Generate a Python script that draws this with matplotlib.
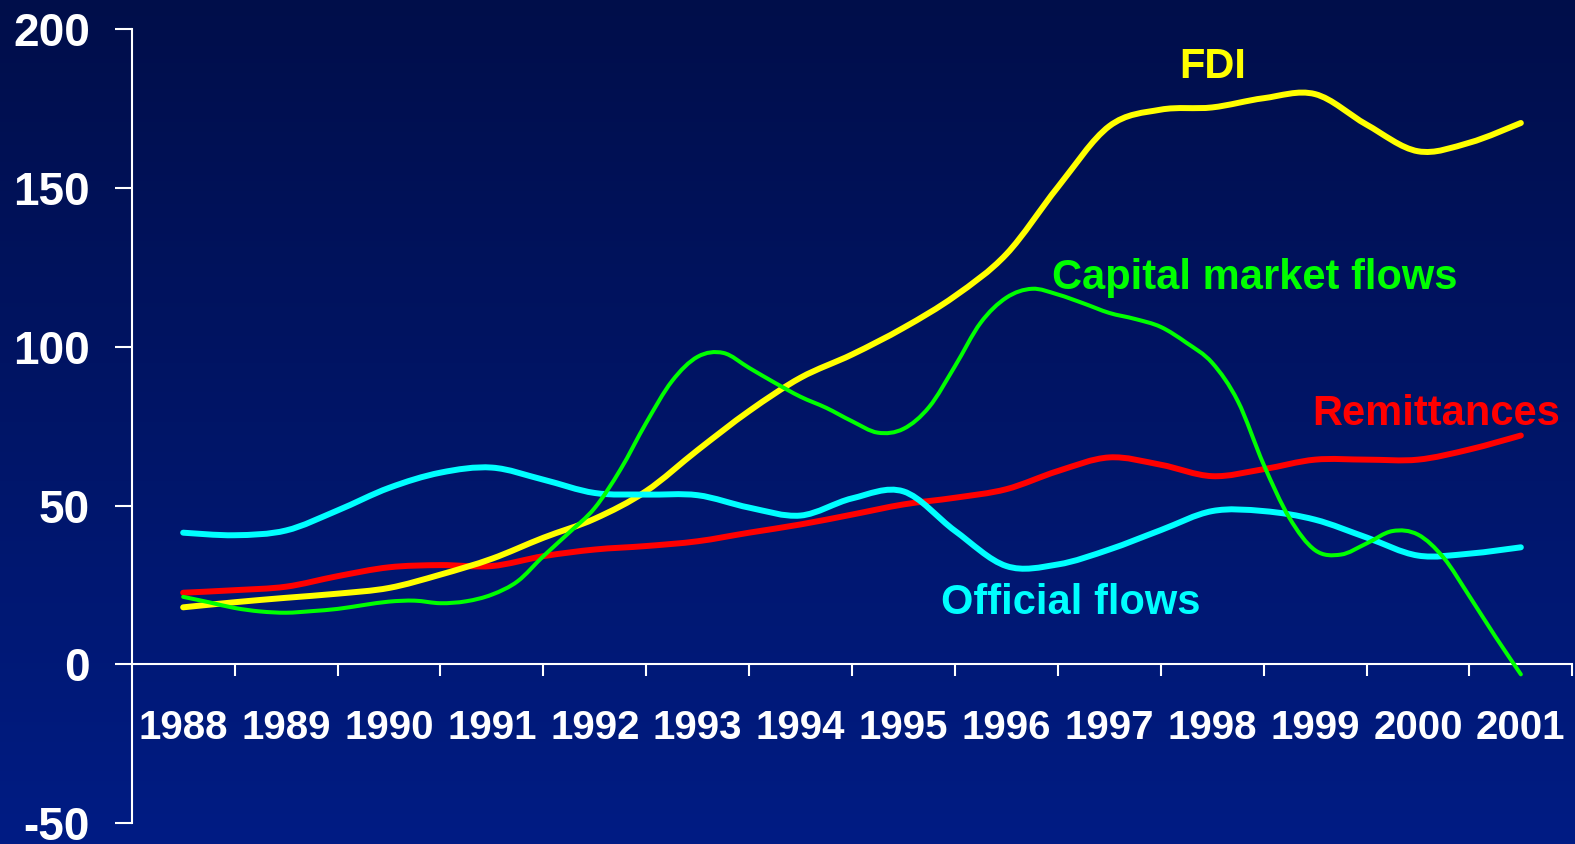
import numpy as np
import matplotlib
matplotlib.use("Agg")
import matplotlib.pyplot as plt
from matplotlib.colors import LinearSegmentedColormap
from matplotlib.path import Path
from matplotlib.patches import PathPatch

plt.rcParams['font.family'] = ['Liberation Sans', 'DejaVu Sans']
plt.rcParams['font.weight'] = 'bold'

# ---- data (US$ billions) ----
years = list(range(1988, 2002))
year_labels = [str(y) for y in years]
y_ticks = [-50, 0, 50, 100, 150, 200]

t_half = np.arange(1988, 2001.01, 0.5)       # half-year reading positions
t_quarter = np.arange(1988, 2001.01, 0.25)   # quarter-year reading positions

fdi = [18.0, 19.6, 21.0, 22.3, 24.1, 28.3, 33.3, 39.9, 45.9, 54.6, 67.5, 79.8,
       90.3, 97.6, 106.0, 116.0, 129.2, 150.3, 169.5, 174.7, 175.4, 178.3,
       179.6, 170.0, 161.6, 164.3, 170.5]

remittances = [22.6, 23.4, 24.5, 27.8, 30.6, 31.3, 31.0, 34.1, 36.2, 37.3, 38.8,
               41.5, 44.1, 47.2, 50.4, 52.5, 55.2, 60.9, 65.2, 62.9, 59.3, 61.5,
               64.5, 64.5, 64.5, 67.7, 72.1]

official = [41.5, 40.7, 42.2, 48.5, 55.6, 60.4, 62.0, 58.2, 54.0, 53.5, 53.3,
            49.4, 46.9, 52.3, 54.5, 42.1, 31.0, 31.5, 36.2, 42.3, 48.3, 48.3,
            45.6, 40.0, 34.3, 34.9, 36.9]

capital = [21.3, 19.6, 17.8, 16.7, 16.3, 16.8, 17.5, 18.7, 19.8, 20.1, 19.3, 19.9,
           22.0, 26.2, 34.1, 41.5, 49.3, 61.4, 76.1, 89.2, 96.9, 98.1, 93.4, 88.7,
           84.3, 80.8, 76.6, 73.0, 74.2, 81.1, 93.9, 107.6, 115.5, 118.3, 116.5,
           113.7, 110.7, 108.8, 106.3, 101.3, 95.0, 82.9, 63.0, 46.2, 36.0, 34.6,
           38.1, 42.0, 40.9, 33.6, 21.5, 8.9, -3.1]


def smooth_line(ax, x, y, color, lw, z):
    """Draw a smoothed line (like a spreadsheet 'smoothed line') through the points."""
    x = np.asarray(x, float)
    y = np.asarray(y, float)
    p = np.column_stack([x, y])
    pe = np.vstack([p[0], p, p[-1]])
    verts = [p[0]]
    codes = [Path.MOVETO]
    for i in range(len(p) - 1):
        p0, p1, p2, p3 = pe[i], pe[i + 1], pe[i + 2], pe[i + 3]
        c1 = p1 + (p2 - p0) / 6.0
        c2 = p2 - (p3 - p1) / 6.0
        verts += [c1, c2, p2]
        codes += [Path.CURVE4] * 3
    patch = PathPatch(Path(verts, codes), fill=False, edgecolor=color, lw=lw,
                      capstyle='round', joinstyle='round', zorder=z)
    ax.add_patch(patch)


# ---- figure ----
fig = plt.figure(figsize=(15.75, 8.44), dpi=100)

bg = fig.add_axes([0, 0, 1, 1], zorder=0)
grad = np.linspace(0, 1, 256).reshape(-1, 1)
cmap = LinearSegmentedColormap.from_list('bg', ['#000E4A', '#001C84'])
bg.imshow(grad, aspect='auto', cmap=cmap, extent=[0, 1, 0, 1], origin='upper')
bg.axis('off')

ax = fig.add_axes([0.08362, 0.02453, 0.91467, 0.94076], zorder=1)
ax.patch.set_alpha(0)

lw_thick = 4.3
smooth_line(ax, t_half, remittances, '#FF0000', lw_thick, 2)
smooth_line(ax, t_half, fdi, '#FFFF00', lw_thick, 3)
smooth_line(ax, t_half, official, '#00FFFF', lw_thick, 4)
smooth_line(ax, t_quarter, capital, '#00FF00', 2.9, 5)

ax.set_xlim(1987.5, 2001.5)
ax.set_ylim(-50, 200)

for s in ['top', 'right']:
    ax.spines[s].set_visible(False)
ax.spines['left'].set_color('white')
ax.spines['left'].set_linewidth(1.5)
ax.spines['bottom'].set_color('white')
ax.spines['bottom'].set_linewidth(1.5)
ax.spines['bottom'].set_position(('data', 0))

ax.set_yticks(y_ticks)
ax.set_yticklabels([str(v) for v in y_ticks])
ax.tick_params(axis='y', direction='out', length=12, width=1.5, color='white',
               pad=18, labelsize=33, labelcolor='white')

ax.set_xticks(np.arange(1988.5, 2001.6, 1.0))
ax.set_xticklabels([])
ax.set_xticks(years, minor=True)
ax.set_xticklabels(year_labels, minor=True)
ax.tick_params(axis='x', which='major', direction='out', length=8.6, width=1.5,
               color='white')
ax.tick_params(axis='x', which='minor', length=0, pad=32, labelsize=29,
               labelcolor='white')
for lbl in ax.get_xticklabels(minor=True) + ax.get_yticklabels():
    lbl.set_fontweight('bold')

# ---- series labels ----
ax.text(1998.01, 184.8, 'FDI', color='#FFFF00', fontsize=30, fontweight='bold',
        ha='center', va='baseline')
ax.text(1998.41, 118.1, 'Capital market flows', color='#00FF00', fontsize=30,
        fontweight='bold', ha='center', va='baseline')
ax.text(2000.18, 75.3, 'Remittances', color='#FF0000', fontsize=30,
        fontweight='bold', ha='center', va='baseline')
ax.text(1996.63, 15.8, 'Official flows', color='#00FFFF', fontsize=30,
        fontweight='bold', ha='center', va='baseline')

fig.savefig('out.png', dpi=100)
